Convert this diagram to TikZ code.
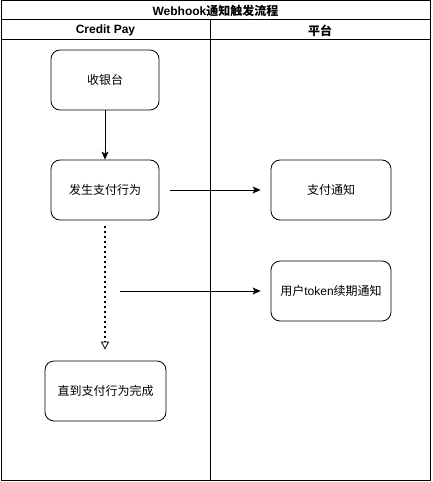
\documentclass[tikz,border=0pt]{standalone}
\usepackage{fontspec}
\setmainfont{Liberation Sans}
\newfontfamily\cjk{Noto Sans CJK SC}
\usetikzlibrary{arrows.meta}

\begin{document}
\begin{tikzpicture}[x=1bp,y=-1bp,
  lane/.style={draw, line width=1bp},
  act/.style={draw, line width=0.8bp, rounded corners=9bp, minimum width=108bp,
    minimum height=60bp, inner sep=0pt, font=\cjk\fontsize{12bp}{14bp}\selectfont},
  head/.style={font=\bfseries\fontsize{12bp}{14bp}\selectfont, inner sep=0pt},
  solidarrow/.style={line width=0.8bp, -{Stealth[length=8bp,width=7bp,inset=2bp]}},
  waitarrow/.style={line width=1.5bp, dash pattern=on 1.5bp off 3.5bp,
    -{Triangle[open,length=8bp,width=8bp,line width=0.8bp]}}]
\useasboundingbox (0,0) rectangle (432,482);
    % 泳道
\draw[lane] (1,1) rectangle (430,480);
\draw[lane] (1,20) -- (430,20);
\draw[lane] (1,40) -- (430,40);
\draw[lane] (210,20) -- (210,480);

\node[head] (title) at (215.5,10.5) {Webhook{\cjk 通知触发流程}};
\node[head] (laneCredit) at (105.5,30.5) {Credit Pay};
\node[head, font=\cjk\bfseries\fontsize{12bp}{14bp}\selectfont] (lanePlatform) at (320,30.5) {平台};

    % 节点
\node[act] (cashier) at (105,80) {收银台};
\node[act] (paying) at (105,190) {发生支付行为};
\node[act, minimum width=120bp] (payNotify) at (331,190) {支付通知};
\node[act, minimum width=120bp] (tokenNotify) at (331,291) {用户{\rmfamily token}续期通知};
\node[act, minimum width=121bp] (finish) at (105.5,391) {直到支付行为完成};

\coordinate (payOut) at (170,190);
\coordinate (tokenOut) at (120,291);

    % 连线
\draw[solidarrow] (cashier) -- (paying);
\draw[solidarrow, shorten >=10bp] (payOut) -- (payNotify);
\draw[solidarrow, shorten >=10bp] (tokenOut) -- (tokenNotify);
\draw[waitarrow, shorten <=6bp, shorten >=11bp] (paying) -- (paying |- finish.north);
\end{tikzpicture}
\end{document}
